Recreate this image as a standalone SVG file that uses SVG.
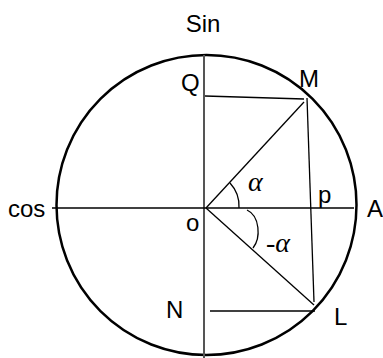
<svg xmlns="http://www.w3.org/2000/svg" width="383" height="358" viewBox="0 0 383 358">
<style>
.lbl{font-family:"Liberation Sans",Arial,sans-serif;font-size:24px;fill:#000}
.gr{font-family:"Liberation Serif","DejaVu Serif",serif;font-style:italic;font-size:28px;fill:#000}
.ln{stroke:#000;stroke-width:1.3;fill:none}
.ax{stroke:#555;stroke-width:2;fill:none}
</style>
<rect width="383" height="358" fill="#fff"/>
<g id="circle"><ellipse cx="206.5" cy="205" rx="150" ry="150" fill="none" stroke="#000" stroke-width="2.5"/></g>
<g id="connectors">
<line class="ax" x1="204" y1="55" x2="204" y2="358"/>
<line class="ln" x1="52" y1="208" x2="354" y2="208"/>
<line class="ln" x1="205" y1="96" x2="304" y2="99"/>
<line class="ln" x1="206" y1="208" x2="304" y2="102"/>
<line class="ln" x1="307" y1="98" x2="314" y2="302"/>
<line class="ln" x1="206" y1="208" x2="314" y2="305"/>
<line class="ln" x1="210" y1="311" x2="315" y2="311"/>
<path class="ln" d="M230,183 A34,34 0 0 1 239,208"/>
<path class="ln" d="M247,210 C260,216 261,238 253,248"/>
</g>
<g id="labels">
<text class="lbl" x="203" y="32" text-anchor="middle">Sin</text>
<text class="lbl" x="181" y="91">Q</text>
<text class="lbl" x="299" y="87">M</text>
<text class="lbl" x="8" y="217">cos</text>
<text class="lbl" x="186" y="231">o</text>
<text class="lbl" x="318" y="203">p</text>
<text class="lbl" x="367" y="217">A</text>
<text class="lbl" x="166" y="318">N</text>
<text class="lbl" x="334" y="325">L</text>
<text class="gr" x="248" y="191">α</text>
<text class="gr" x="266" y="252">-α</text>
</g>
</svg>
